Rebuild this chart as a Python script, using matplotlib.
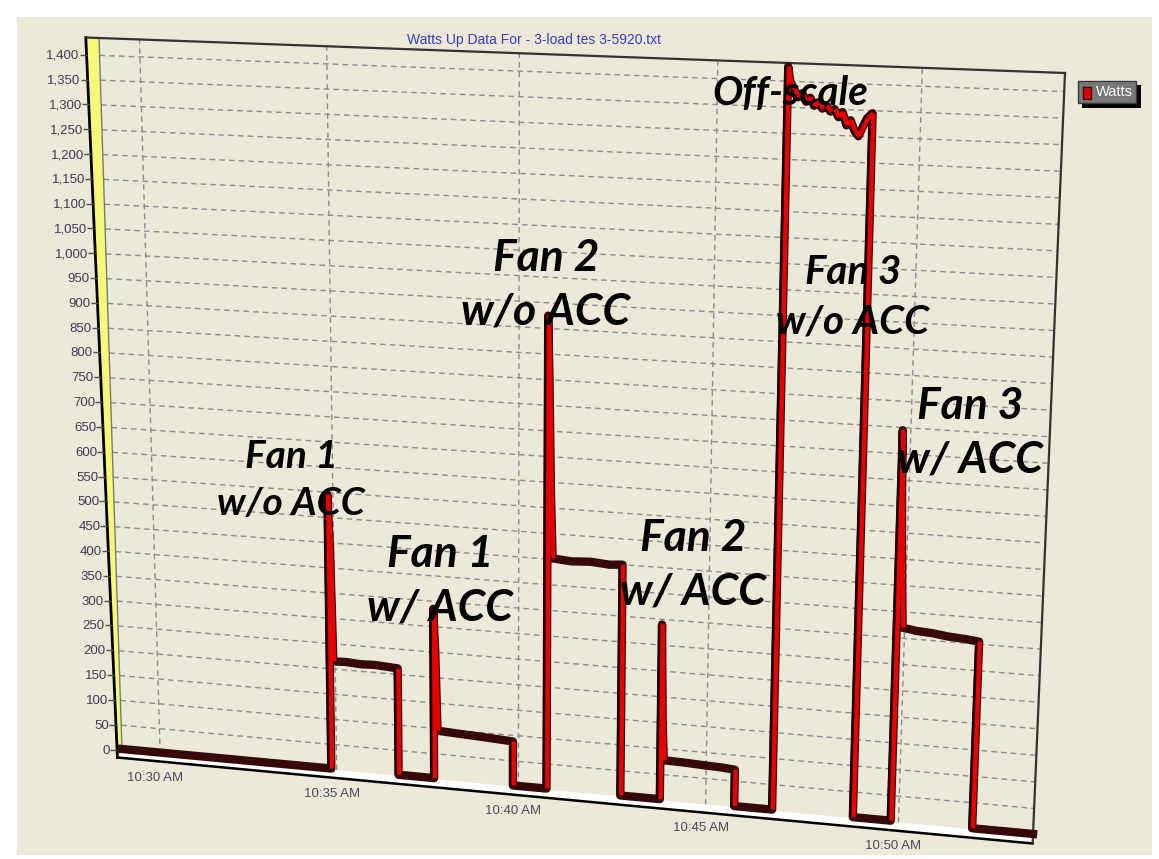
import numpy as np
import matplotlib
matplotlib.use("Agg")
import matplotlib.pyplot as plt
import matplotlib.patheffects as pe
from matplotlib.transforms import Transform, ScaledTranslation
from matplotlib.collections import LineCollection
from matplotlib.patches import Rectangle, Polygon

W, H = 1159, 859
BEIGE = "#ece9d8"

# Watts Up log, time in minutes past 10:00 AM
minutes = [
    28.9, 34.85,
    34.85, 34.9, 34.95, 35.3, 35.7, 36.1, 36.5, 36.72,        # fan 1 w/o ACC
    36.72, 37.7,
    37.7, 37.75, 37.8, 38.3, 38.9, 39.4, 39.85,               # fan 1 w/ ACC
    39.85, 40.76,
    40.76, 40.8, 40.85, 40.9, 41.4, 41.9, 42.4, 42.74,        # fan 2 w/o ACC
    42.74, 43.79,
    43.79, 43.84, 43.88, 44.4, 45.0, 45.4, 45.75,             # fan 2 w/ ACC
    45.75, 46.74,
    46.74, 46.8, 46.9, 47.0, 47.1, 47.2, 47.3, 47.4, 47.5, 47.6, 47.7,
    47.8, 47.9, 48.0, 48.1, 48.2, 48.3, 48.4, 48.5, 48.6, 48.7, 48.83,  # fan 3 w/o ACC
    48.83, 49.8,
    49.8, 49.83, 49.86, 49.9, 49.95, 50.3, 50.7, 51.1, 51.5, 51.87,  # fan 3 w/ ACC
    51.87, 53.4,
]
watts = [
    2, 2,
    545, 440, 215, 216, 214, 215, 213, 212,
    2, 2,
    335, 250, 96, 94, 92, 90, 88,
    2, 2,
    925, 800, 575, 452, 449, 451, 448, 450,
    2, 2,
    340, 150, 78, 77, 75, 74, 72,
    2, 2,
    1428, 1400, 1385, 1370, 1378, 1362, 1370, 1355, 1362, 1350, 1356,
    1345, 1350, 1335, 1345, 1320, 1330, 1310, 1300, 1318, 1335, 1345,
    2, 2,
    745, 630, 550, 460, 370, 366, 364, 360, 358, 355,
    2, 2,
]

x_ticks = [30, 35, 40, 45, 50]
x_labels = ["10:30 AM", "10:35 AM", "10:40 AM", "10:45 AM", "10:50 AM"]
y_ticks = list(range(0, 1401, 50))

notes = ["Fan 1\nw/o ACC", "Fan 1\nw/ ACC", "Fan 2\nw/o ACC", "Fan 2\nw/ ACC",
         "Off-scale", "Fan 3\nw/o ACC", "Fan 3\nw/ ACC"]
note_xy = [(291, 480), (440, 581), (546, 285), (693, 565), (790, 94), (853, 297), (970, 433)]
note_size = [28, 32, 32, 32, 29, 29, 32]

t_min, t_max = 28.9, 53.4
w_max = 1435
floor = -16
wall_depth = (0.14, 0.36)   # minutes, bottom / top of the yellow side wall


class WallProjection(Transform):
    """Axes fraction -> display pixels on a tilted back wall.

    Horizontal position is foreshortened, then both coordinates are
    blended between the four wall corners.
    """
    input_dims = 2
    output_dims = 2

    def __init__(self, corners, bend):
        super().__init__()
        self.corners = np.asarray(corners, dtype=float)
        self.bend = bend

    def transform_non_affine(self, values):
        v = np.asarray(values, dtype=float).reshape(-1, 2)
        u, s = v[:, :1], v[:, 1:]
        a = self.bend
        u = a * u / (1 + (a - 1) * u)
        p00, p01, p11, p10 = self.corners
        return ((1 - u) * (1 - s) * p00 + (1 - u) * s * p01
                + u * s * p11 + u * (1 - s) * p10)


def px(x, y):
    return (x, H - y)


def box(x0, y0, x1, y1, **kw):
    return Rectangle((x0 / W, 1 - y1 / H), (x1 - x0) / W, (y1 - y0) / H,
                     transform=fig.transFigure, **kw)


fig = plt.figure(figsize=(W / 100, H / 100), dpi=100)
fig.patch.set_facecolor("white")
fig.add_artist(box(17, 17, 1152, 855, facecolor=BEIGE, edgecolor="none", zorder=-10))

ax = fig.add_axes([0, 0, 1, 1])
ax.set_xlim(t_min, t_max)
ax.set_ylim(0, w_max)
ax.set_axis_off()

wall = WallProjection([px(122, 750), px(99, 38), px(1065, 73), px(1033, 835)], bend=0.93)
persp = ax.transScale + ax.transLimits + wall


def shifted(dx, dy):
    return persp + ScaledTranslation(dx / 100, dy / 100, fig.dpi_scale_trans)


# back wall grid
grid = dict(transform=persp, color="#8c8c8c", lw=1, ls=(0, (4, 3)), zorder=1)
for w in y_ticks[1:]:
    ax.plot([t_min, t_max], [w, w], **grid)
for t in x_ticks:
    ax.plot([t, t], [0, w_max], **grid)

# floor and left wall
front_bot, front_top = t_min - wall_depth[0], t_min - wall_depth[1]
ax.add_patch(Polygon([(t_min, 0), (t_max, 0), (t_max, floor), (front_bot, floor)],
                     transform=persp, facecolor="white", edgecolor="none", zorder=2))
ax.plot([front_bot, t_max], [floor, floor], transform=persp, color="black", lw=1.8, zorder=2)
ax.add_patch(Polygon([(t_min, 0), (t_min, w_max), (front_top, w_max), (front_bot, floor)],
                     transform=persp, facecolor="#f7f77a", edgecolor="none", zorder=2))
ax.plot([front_bot, front_top], [floor, w_max], transform=persp, color="black", lw=2, zorder=3)
ax.plot([t_min, t_min], [0, w_max], transform=persp, color="#7a7a7a", lw=1, zorder=3)
ax.plot([front_top, t_max], [w_max, w_max], transform=persp, color="#333333", lw=1.6, zorder=3)
ax.plot([t_max, t_max], [floor, w_max], transform=persp, color="#333333", lw=1.6, zorder=3)

# y ticks on the front edge of the wall
front_t = [t_min - wall_depth[0] - (wall_depth[1] - wall_depth[0]) * w / w_max for w in y_ticks]
ax.plot(front_t, y_ticks, transform=persp, ls="none", marker=0, ms=5, mew=1,
        color="#505050", zorder=3)
for t, w in zip(front_t, y_ticks):
    ax.text(t, w, f"{w:,}", transform=shifted(-7, -1), ha="right", va="center",
            fontsize=9.5, color="#3c3c55", family="Liberation Sans")

for t, lab in zip(x_ticks, x_labels):
    ax.text(t, 0, lab, transform=shifted(-5, -24), ha="center", va="center",
            fontsize=9.5, color="#4a4a5a", family="Liberation Sans")

# the watts trace as a ribbon: dark for level runs, red where it climbs or drops
t_arr = np.array(minutes)
w_arr = np.array(watts)
ax.plot(t_arr, w_arr, transform=persp, color="#360808", lw=6,
        solid_joinstyle="round", zorder=5)
segs = []
for i in range(len(t_arr) - 1):
    dt = t_arr[i + 1] - t_arr[i]
    dw = w_arr[i + 1] - w_arr[i]
    if dt == 0 or abs(dw) / dt > 60:
        segs.append([(t_arr[i], w_arr[i]), (t_arr[i + 1], w_arr[i + 1])])
lc = LineCollection(segs, colors="#e60000", linewidths=3.2, transform=shifted(0.8, 0),
                    zorder=6, capstyle="butt")
lc.set_path_effects([pe.Stroke(linewidth=4.4, foreground="#1a0000", offset=(-1.2, 0)),
                     pe.Normal()])
ax.add_collection(lc, autolim=False)

fig.text(534 / W, 1 - 40 / H, "Watts Up Data For - 3-load tes 3-5920.txt",
         ha="center", va="center", color="#3a3ac8", fontsize=10, family="Liberation Sans")

# legend
fig.add_artist(box(1082, 85, 1141, 108, facecolor="black", edgecolor="none", zorder=8))
fig.add_artist(box(1078, 81, 1136, 103, facecolor="#787878", edgecolor="#3a3a3a", lw=1, zorder=9))
fig.add_artist(box(1083, 87, 1091, 99, facecolor="#e00000", edgecolor="#400000", lw=1, zorder=10))
fig.text(1096 / W, 1 - 92 / H, "Watts", color="white", fontsize=10.5, va="center", ha="left",
         family="Liberation Sans", zorder=10)

for s, (x, y), fs in zip(notes, note_xy, note_size):
    fig.text(x / W, 1 - y / H, s, ha="center", va="center", fontsize=fs, linespacing=1.4,
             family="Lato", fontweight="bold", fontstyle="italic", color="black", zorder=20)

fig.savefig("out.png", dpi=100)
